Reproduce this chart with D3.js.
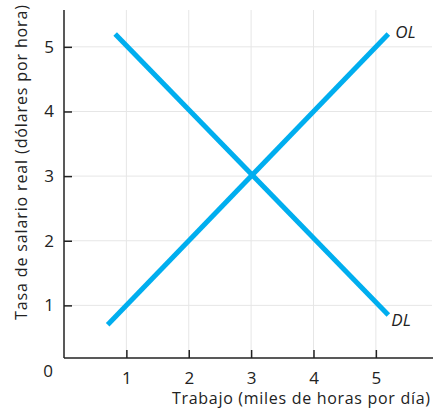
<!DOCTYPE html>
<html><head><meta charset="utf-8">
<script src="https://cdn.jsdelivr.net/npm/d3@7"></script>
<style>body{margin:0;background:#fff}text{font-family:"Open Sans","DejaVu Sans",sans-serif;fill:#222}</style>
</head><body><svg id="c" width="436" height="413"></svg>
<script>
const xTicks=[1,2,3,4,5];
const yTicks=[1,2,3,4,5];
const olX=[0.7,5.2], olY=[0.7,5.2];
const dlX=[0.82,5.2], dlY=[5.2,0.85];
const labels=["OL","DL"];
const xTitle="Trabajo (miles de horas por día)";
const yTitle="Tasa de salario real (dólares por hora)";

const svg=d3.select("#c");
const x=d3.scaleLinear().domain([0,5.9]).range([64,432]);
const y=d3.scaleLinear().domain([0,5.57]).range([370,10]);
const yBase=358, xLeft=64;

// grid
svg.append("g").selectAll("line").data(xTicks).join("line")
 .attr("x1",d=>x(d)).attr("x2",d=>x(d)).attr("y1",y(5.57)).attr("y2",yBase)
 .attr("stroke","#e6e6e6").attr("stroke-width",1);
svg.append("g").selectAll("line").data(yTicks).join("line")
 .attr("y1",d=>y(d)).attr("y2",d=>y(d)).attr("x1",xLeft).attr("x2",432)
 .attr("stroke","#e6e6e6").attr("stroke-width",1);

// axes
const xa=svg.append("g").attr("transform",`translate(0,${yBase})`)
 .call(d3.axisBottom(x).tickValues(xTicks).tickSize(-8).tickPadding(14).tickFormat(d3.format("d")));
const ya=svg.append("g").attr("transform",`translate(${xLeft},0)`)
 .call(d3.axisLeft(y).tickValues(yTicks).tickSize(-8).tickPadding(10).tickFormat(d3.format("d")));
[xa,ya].forEach(a=>{a.select(".domain").remove();a.selectAll("line").attr("stroke","#222").attr("stroke-width",1.5);
 a.selectAll("text").attr("font-size",17).attr("font-family","Open Sans").attr("fill","#222");});
svg.append("line").attr("x1",xLeft).attr("x2",433).attr("y1",yBase).attr("y2",yBase).attr("stroke","#222").attr("stroke-width",1.5);
svg.append("line").attr("x1",xLeft).attr("x2",xLeft).attr("y1",y(5.57)).attr("y2",yBase).attr("stroke","#222").attr("stroke-width",1.5);
svg.append("text").attr("x",48).attr("y",377).attr("text-anchor","middle").attr("font-size",17).text("0");

// lines
const line=d3.line().x(d=>x(d[0])).y(d=>y(d[1]));
[[olX,olY],[dlX,dlY]].forEach(([xs,ys])=>{
 svg.append("path").datum(xs.map((v,i)=>[v,ys[i]])).attr("d",line)
  .attr("fill","none").attr("stroke","#00aeef").attr("stroke-width",5);
});
svg.append("text").attr("x",x(olX[1])+7).attr("y",y(olY[1])+4).attr("font-size",17).attr("font-style","italic").text(labels[0]);
svg.append("text").attr("x",x(dlX[1])+3).attr("y",y(dlY[1])+11).attr("font-size",17).attr("font-style","italic").text(labels[1]);

// titles
svg.append("text").attr("x",172).attr("y",404).attr("font-size",16)
 .attr("textLength",258).attr("lengthAdjust","spacing").text(xTitle);
svg.append("text").attr("transform","translate(27,320) rotate(-90)").attr("font-size",16)
 .attr("textLength",315).attr("lengthAdjust","spacing").text(yTitle);
</script></body></html>
